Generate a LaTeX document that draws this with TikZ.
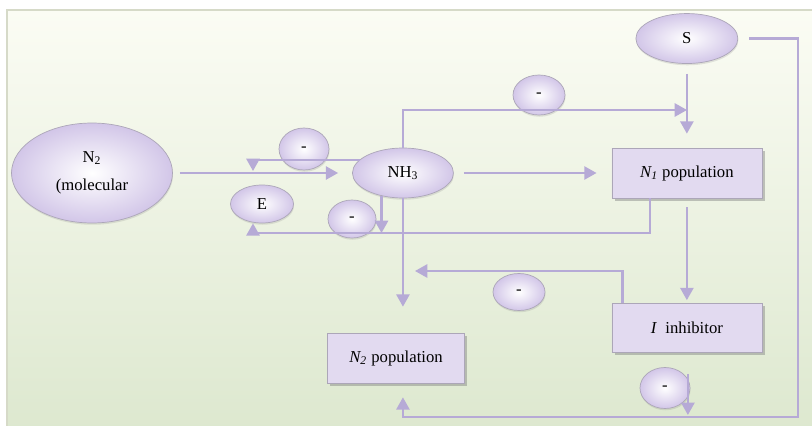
\documentclass[tikz,border=0pt]{standalone}
\usepackage{fontspec}
\setmainfont{Liberation Serif}
\usepackage{tikz}
\usetikzlibrary{arrows,arrows.meta,positioning,shapes,shadows,calc}
\definecolor{lineclr}{RGB}{182,170,214}
\definecolor{lilac}{RGB}{210,198,232}
\definecolor{edgegray}{RGB}{172,166,184}
\definecolor{boxedge}{RGB}{226,218,240}
\definecolor{boxmid}{RGB}{246,243,250}
\definecolor{bgtop}{RGB}{251,252,244}
\definecolor{bgmid}{RGB}{236,242,224}
\definecolor{bgbot}{RGB}{221,232,207}
\definecolor{framegray}{RGB}{214,218,200}

\begin{document}
\begin{tikzpicture}[x=0.02cm,y=-0.02cm,on grid,
  font=\fontsize{9.5}{11}\selectfont,
  blob/.style={ellipse,draw=edgegray,inner color=white,outer color=lilac,inner sep=0pt,
    drop shadow={shadow xshift=0.3pt,shadow yshift=-1pt,opacity=0.2}},
  neg/.style={blob,minimum width=1cm,minimum height=0.8cm},
  popbox/.style={rectangle,draw=edgegray,top color=boxedge,middle color=boxmid,bottom color=boxedge,
    minimum width=3cm,minimum height=1cm,inner sep=0pt,
    drop shadow={shadow xshift=1.5pt,shadow yshift=-1.5pt,opacity=0.45}},
  link/.style={color=lineclr,line width=1.25pt},
  flow/.style={link,-{Triangle[length=7pt,width=7.5pt]}}]
   \useasboundingbox (0,0) rectangle (812,426);
   \fill[white] (0,0) rectangle (812,426);
   \shade[top color=bgtop,middle color=bgmid,bottom color=bgbot,draw=framegray,line width=0.8pt]
     (7,10) rectangle (816,430);

   \node[blob,minimum width=3.22cm,minimum height=2cm,align=center] (n2mol) at (92,173)
     {N\textsubscript{2}\\[5pt](molecular};
   \node[blob,minimum width=2.02cm,minimum height=1cm] (nh3) [right=6.22cm of n2mol] {NH\textsubscript{3}};
   \node[popbox] (n1pop) [right=5.68cm of nh3] {\textit{N\textsubscript{1}} population};
   \node[blob,minimum width=2.04cm,minimum height=1cm] (s) [above=2.69cm of n1pop] {S};
   \node[popbox,minimum height=0.98cm] (inhib) [below=3.1cm of n1pop] {\textit{I}\enspace inhibitor};
   \node[popbox,minimum width=2.74cm] (n2pop) at (396,358) {\textit{N\textsubscript{2}} population};
   \node[blob,minimum width=1.26cm,minimum height=0.76cm] (e) at (262,204) {E};
   \node[neg,minimum height=0.84cm] (m1) at (304,149) {-};
   \node[neg,minimum width=0.96cm,minimum height=0.76cm] (m2) at (352,219) {-};
   \node[neg,minimum width=1.04cm] (m3) at (539,95) {-};
   \node[neg,minimum width=1.04cm,minimum height=0.74cm] (m4) at (519,292) {-};
   \node[neg,minimum height=0.82cm] (m5) at (665,388) {-};

   \coordinate (fbl) at (253,233);
   \coordinate (ltip) at (253,171);
   \coordinate (tj) at (687,110);
   \coordinate (br) at (798,417);
   \coordinate (mtip) at (415,271);

    \path[flow]
    (n2mol) edge[shorten <=0.14cm,shorten >=0.28cm] (nh3)
    (nh3) edge[shorten <=0.2cm,shorten >=0.3cm] (n1pop)
    (s) edge[shorten <=0.2cm,shorten >=0.28cm] (n1pop)
    (n1pop) edge[shorten <=0.18cm,shorten >=0.06cm] (inhib)
    (nh3) edge[shorten >=0.52cm] (nh3.south |- n2pop.north);
   \draw[flow] (nh3.north) |- (tj);
   \draw[flow] ($(s.east)+(11,0)$) -| (br) -| ($(nh3.south |- n2pop.south)+(0,14)$);
   \draw[flow] ($(n1pop.south)+(-37,0)$) |- (fbl) -- (fbl |- e.south);
   \draw[flow] (nh3.163) -| (ltip);
   \draw[flow] (nh3.227) -- (nh3.227 |- fbl);
   \draw[flow] ($(inhib.north west)+(11,0)$) |- (mtip);
   \draw[flow] ($(inhib.south)+(1,21)$) -- ($(inhib.south |- br)+(1,-2)$);
\end{tikzpicture}
\end{document}
